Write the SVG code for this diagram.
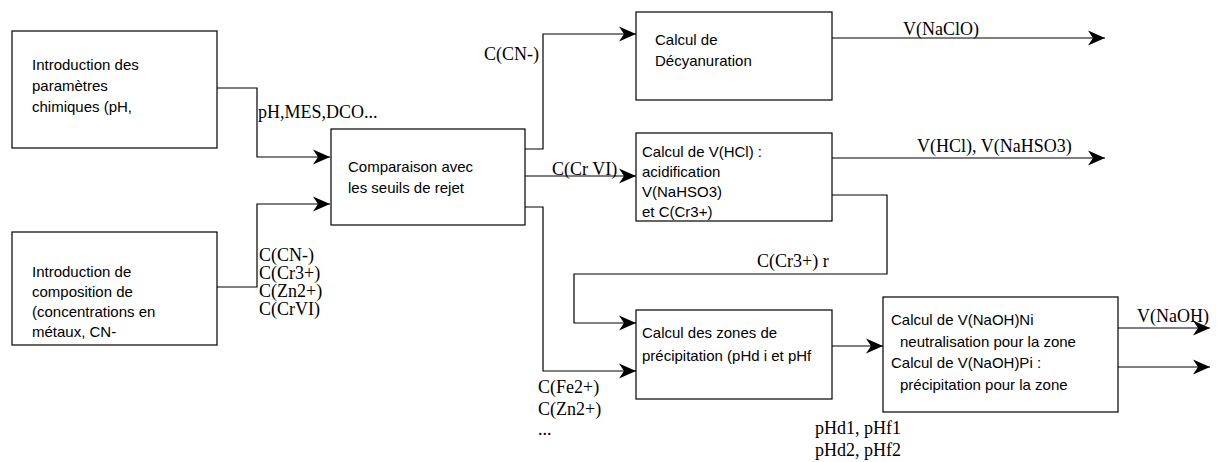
<svg xmlns="http://www.w3.org/2000/svg" width="1217" height="462" viewBox="0 0 1217 462">
<style>
.box{fill:#fff;stroke:#000;stroke-width:1.2}
.bt{font-family:"Liberation Sans",Arial,sans-serif;font-size:15px;fill:#000}
.lb{font-family:"Liberation Serif","Times New Roman",serif;font-size:18px;fill:#000}
.c{fill:none;stroke:#000;stroke-width:1.2}
.a{marker-end:url(#ah)}
</style>
<defs>
<marker id="ah" markerUnits="userSpaceOnUse" markerWidth="19" markerHeight="18" refX="17" refY="9" orient="auto" viewBox="0 0 19 18">
<path d="M0,1.5 L17,9 L0,16.5 L5,9 z" fill="#000"/>
</marker>
</defs>
<rect width="1217" height="462" fill="#fff"/>
<g id="connectors">
<polyline class="c a" points="217,88 257,88 257,157 330,157"/>
<polyline class="c a" points="217,287 257,287 257,204 330,204"/>
<polyline class="c a" points="525,149 543,149 543,34 636,34"/>
<polyline class="c a" points="525,176 636,176"/>
<polyline class="c a" points="525,207 543,207 543,371 636,371"/>
<polyline class="c a" points="832,38 1105,38"/>
<polyline class="c a" points="832,158 1105,158"/>
<polyline class="c a" points="832,195 887,195 887,274 574,274 574,323 636,323"/>
<polyline class="c a" points="832,346 883,346"/>
<polyline class="c a" points="1118,328 1210,328"/>
<polyline class="c a" points="1118,367 1210,367"/>
</g>
<g id="labels">
<text class="lb" x="258" y="118">pH,MES,DCO...</text>
<text class="lb" x="259" y="261">C(CN-)</text>
<text class="lb" x="259" y="279">C(Cr3+)</text>
<text class="lb" x="259" y="297">C(Zn2+)</text>
<text class="lb" x="259" y="315">C(CrVI)</text>
<text class="lb" x="484" y="60">C(CN-)</text>
<text class="lb" x="552" y="175">C(Cr VI)</text>
<text class="lb" x="903" y="35">V(NaClO)</text>
<text class="lb" x="917" y="152">V(HCl), V(NaHSO3)</text>
<text class="lb" x="757" y="267">C(Cr3+) r</text>
<text class="lb" x="538" y="393">C(Fe2+)</text>
<text class="lb" x="538" y="415">C(Zn2+)</text>
<text class="lb" x="538" y="435">...</text>
<text class="lb" x="815" y="434">pHd1, pHf1</text>
<text class="lb" x="815" y="456">pHd2, pHf2</text>
<text class="lb" x="1137" y="322">V(NaOH)</text>
</g>
<g id="n1">
<rect class="box" x="12" y="31" width="205" height="117"/>
<text class="bt" x="32" y="70">Introduction des</text>
<text class="bt" x="32" y="91">paramètres</text>
<text class="bt" x="32" y="112">chimiques (pH,</text>
</g>
<g id="n2">
<rect class="box" x="12" y="232" width="205" height="113"/>
<text class="bt" x="32" y="277">Introduction de</text>
<text class="bt" x="32" y="297">composition de</text>
<text class="bt" x="32" y="317">(concentrations en</text>
<text class="bt" x="32" y="337">métaux, CN-</text>
</g>
<g id="n3">
<rect class="box" x="331" y="129" width="194" height="96"/>
<text class="bt" x="348" y="172">Comparaison avec</text>
<text class="bt" x="348" y="193">les seuils de rejet</text>
</g>
<g id="n4">
<rect class="box" x="636" y="12" width="196" height="88"/>
<text class="bt" x="655" y="45">Calcul de</text>
<text class="bt" x="655" y="66">Décyanuration</text>
</g>
<g id="n5">
<rect class="box" x="636" y="133" width="196" height="88"/>
<text class="bt" x="642" y="157">Calcul de V(HCl) :</text>
<text class="bt" x="642" y="177">acidification</text>
<text class="bt" x="642" y="197">V(NaHSO3)</text>
<text class="bt" x="642" y="217">et C(Cr3+)</text>
</g>
<g id="n6">
<rect class="box" x="636" y="310" width="196" height="89"/>
<text class="bt" x="642" y="338">Calcul des zones de</text>
<text class="bt" x="642" y="361">précipitation (pHd i et pHf</text>
</g>
<g id="n7">
<rect class="box" x="883" y="297" width="235" height="115"/>
<text class="bt" x="891" y="325">Calcul de V(NaOH)Ni</text>
<text class="bt" x="900" y="347">neutralisation pour la zone</text>
<text class="bt" x="891" y="368">Calcul de V(NaOH)Pi :</text>
<text class="bt" x="900" y="390">précipitation pour la zone</text>
</g>
</svg>
